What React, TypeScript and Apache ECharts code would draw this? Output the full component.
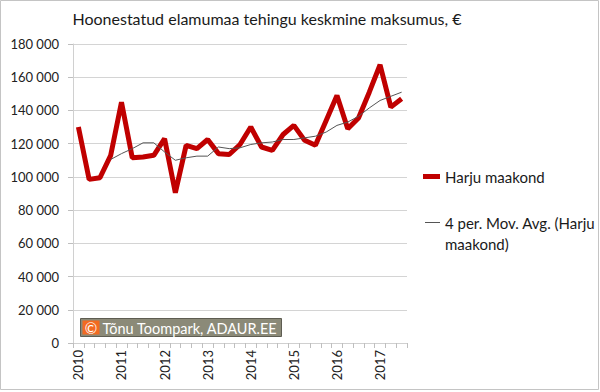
import React, { useEffect, useRef } from "react";
import * as echarts from "echarts";

const quarters: string[] = [];
for (let y = 2010; y <= 2017; y++) {
  for (let q = 1; q <= 4; q++) {
    if (y === 2017 && q === 4) break;
    quarters.push(`${y} Q${q}`);
  }
}

const harjuValues = [
  130000, 98500, 99500, 113000, 145000, 111500, 112000, 113000, 123000, 90500,
  119000, 117000, 122500, 114000, 113500, 119500, 130000, 118000, 116000, 125500,
  131000, 122000, 119000, 134000, 149000, 129000, 135500, 151000, 167500, 142000,
  147000,
];

const movAvgValues = [
  null, null, null, 110500, 114000, 117000, 120500, 120500, 115000, 110000,
  111500, 112500, 112500, 118000, 117000, 117500, 119500, 120500, 121000, 122500,
  122500, 123500, 124500, 127000, 131000, 133000, 136500, 141500, 146000, 148500,
  151000,
];

const yTicks = { min: 0, max: 180000, interval: 20000 };

const seriesNames = ["Harju maakond", "4 per. Mov. Avg. (Harju\nmaakond)"];

const FONT = "Lato, 'Noto Sans', sans-serif";

export default function App() {
  const ref = useRef<HTMLDivElement>(null);
  useEffect(() => {
    if (!ref.current) return;
    const chart = echarts.init(ref.current, undefined, { renderer: "svg" });
    chart.setOption({
      animation: false,
      backgroundColor: "#ffffff",
      textStyle: { fontFamily: FONT },
      title: {
        text: "Hoonestatud elamumaa tehingu keskmine maksumus, €",
        left: 262,
        textAlign: "center",
        top: 5,
        textStyle: { fontFamily: FONT, fontSize: 16, fontWeight: "normal", color: "#1a1a1a" },
      },
      grid: { left: 73, right: 193, top: 44, bottom: 49, containLabel: false },
      legend: [
        {
          data: [seriesNames[0]],
          left: 418,
          top: 164,
          orient: "vertical",
          icon: "rect",
          itemWidth: 17,
          itemHeight: 5,
          textStyle: { fontFamily: FONT, fontSize: 15, color: "#1a1a1a" },
        },
        {
          data: [seriesNames[1]],
          left: 420,
          top: 207,
          orient: "vertical",
          icon: "path://M0,0H15V1H0Z M0,22L15,22Z",
          itemWidth: 15,
          itemHeight: 22,
          textStyle: {
            fontFamily: FONT,
            fontSize: 15,
            color: "#1a1a1a",
            lineHeight: 21,
          },
        },
      ],
      xAxis: {
        type: "category",
        data: quarters,
        boundaryGap: true,
        axisLine: { show: true, lineStyle: { color: "#d0d0d0", width: 1 } },
        axisTick: { show: true, interval: 0, length: 5, lineStyle: { color: "#bfbfbf" } },
        axisLabel: {
          interval: (index: number) => index % 4 === 0,
          formatter: (v: string) => v.slice(0, 4),
          rotate: 90,
          margin: 7,
          fontFamily: FONT,
          fontSize: 13,
          color: "#222",
        },
        splitLine: { show: false },
      },
      yAxis: {
        type: "value",
        min: yTicks.min,
        max: yTicks.max,
        interval: yTicks.interval,
        axisLine: { show: true, lineStyle: { color: "#d0d0d0", width: 1 } },
        axisTick: { show: true, length: 5, lineStyle: { color: "#bfbfbf" } },
        axisLabel: {
          formatter: (v: number) => String(v).replace(/\B(?=(\d{3})+(?!\d))/g, " "),
          margin: 14,
          fontFamily: FONT,
          fontSize: 13,
          color: "#222",
        },
        splitLine: { show: true, lineStyle: { color: "#d4d4d4", width: 1 } },
      },
      series: [
        {
          name: seriesNames[0],
          type: "line",
          data: harjuValues,
          showSymbol: false,
          symbol: "none",
          lineStyle: { color: "#c00000", width: 5 },
          itemStyle: { color: "#c00000" },
          z: 2,
        },
        {
          name: seriesNames[1],
          type: "line",
          data: movAvgValues,
          showSymbol: false,
          symbol: "none",
          lineStyle: { color: "#555555", width: 1 },
          itemStyle: { color: "#555555" },
          z: 3,
        },
      ],
      graphic: [
        {
          type: "rect",
          shape: { x: 0.5, y: 0.5, width: 598, height: 389 },
          style: { fill: "none", stroke: "#c4c4c4", lineWidth: 1 },
          silent: true,
        },
        {
          type: "group",
          left: 80,
          top: 318,
          z: 10,
          children: [
            {
              type: "rect",
              shape: { x: 0, y: 0, width: 201, height: 18 },
              style: { fill: "#8b8a78", stroke: "#5e5d52", lineWidth: 1 },
            },
            {
              type: "rect",
              shape: { x: 2, y: 2, width: 17, height: 14 },
              style: { fill: "#f26a21" },
            },
            {
              type: "text",
              x: 10.5,
              y: 9.5,
              style: {
                text: "©",
                fill: "#ffffff",
                font: `15px ${FONT}`,
                align: "center",
                verticalAlign: "middle",
              },
            },
            {
              type: "text",
              x: 22,
              y: 9.5,
              style: {
                text: "Tõnu Toompark, ADAUR.EE",
                fill: "#ffffff",
                font: `14.5px ${FONT}`,
                verticalAlign: "middle",
              },
            },
          ],
        },
      ],
    });
    return () => chart.dispose();
  }, []);
  return (
    <div
      ref={ref}
      style={{ position: "fixed", left: 0, top: 0, width: 600, height: 392 }}
    />
  );
}
